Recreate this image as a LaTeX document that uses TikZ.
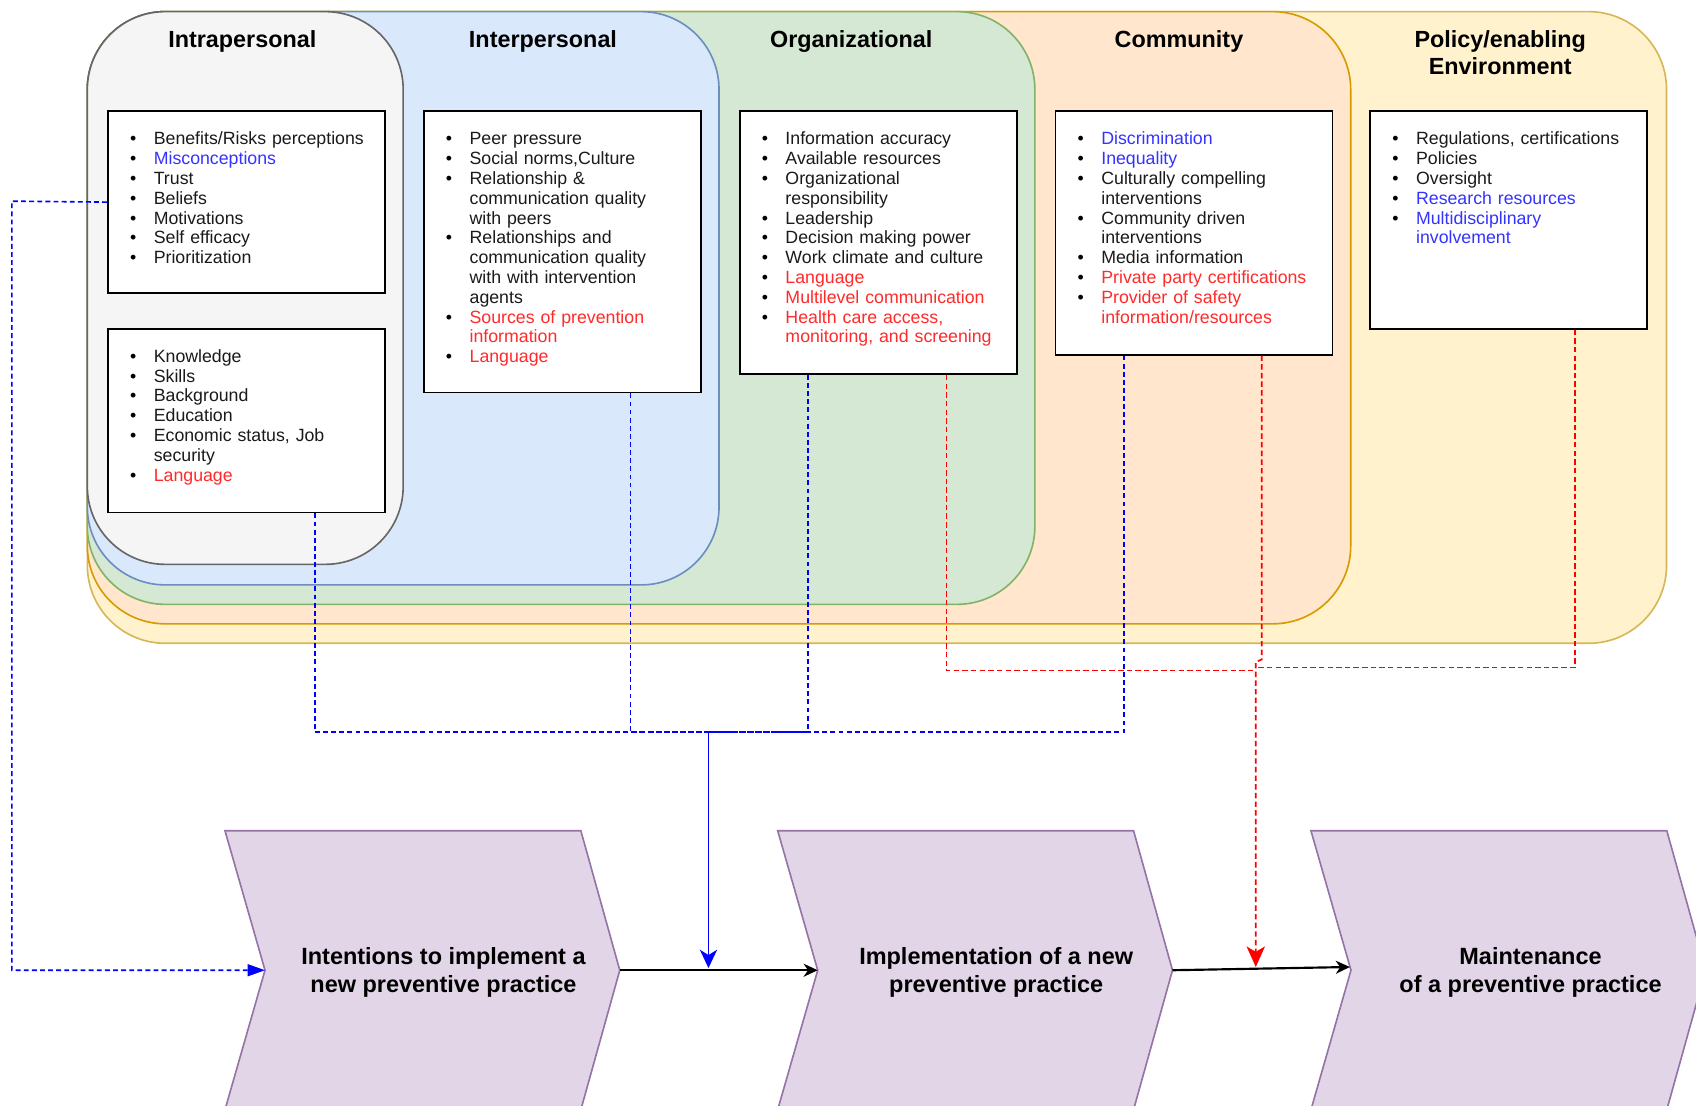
\documentclass[tikz,border=0pt]{standalone}
\usepackage{fontspec}
\setmainfont{Liberation Sans}
\usetikzlibrary{arrows.meta}

\definecolor{intrafill}{HTML}{F5F5F5}\definecolor{intraline}{HTML}{666666}
\definecolor{interfill}{HTML}{DAE8FC}\definecolor{interline}{HTML}{6C8EBF}
\definecolor{orgfill}{HTML}{D5E8D4}\definecolor{orgline}{HTML}{82B366}
\definecolor{comfill}{HTML}{FFE6CC}\definecolor{comline}{HTML}{D79B00}
\definecolor{polfill}{HTML}{FFF2CC}\definecolor{polline}{HTML}{D6B656}
\definecolor{chevfill}{HTML}{E1D5E7}\definecolor{chevline}{HTML}{9673A6}
\definecolor{txt}{HTML}{1A1A1A}
\definecolor{txtblue}{HTML}{3333FF}
\definecolor{txtred}{HTML}{FF2A2A}
\definecolor{linkblue}{HTML}{0000FF}
\definecolor{linkred}{HTML}{FF0000}

% one bulleted entry with a hanging indent; #1 = text colour
\newcommand\itm[2][txt]{\hangindent=21.9pt\hangafter=1%
  \makebox[21.9pt][l]{\color{black}\textbullet}{\color{#1}#2}\par}

\tikzset{
  layer/.style={rectangle, rounded corners=72pt, line width=1.5pt,
    anchor=north west, inner sep=0pt},
  title/.style={font=\fontsize{21.6}{25}\selectfont\bfseries, anchor=base,
    inner sep=0pt, text=black},
  listbox/.style={rectangle, draw=black, fill=white, line width=1.7pt,
    anchor=north west, inner sep=0pt},
  listtext/.style={anchor=base west, inner sep=0pt, text width=235pt,
    font=\fontsize{16.4}{18.3}\selectfont, text=txt},
  chev/.style={fill=chevfill, draw=chevline, line width=1.5pt},
  chevtext/.style={font=\fontsize{21.7}{26}\selectfont\bfseries, align=center,
    inner sep=0pt},
  bluedash/.style={draw=linkblue, line width=1.5pt, dash pattern=on 4.5pt off 3pt},
  reddash/.style={draw=linkred, line width=1.5pt, dash pattern=on 5pt off 3pt},
  flowarrow/.style={draw=black, line width=2pt,
    -{Stealth[length=13pt,width=12pt,inset=4pt]}},
  bluearrow/.style={draw=linkblue, line width=1.5pt,
    -{Stealth[length=17pt,width=16pt,inset=5pt]}},
  redarrow/.style={reddash,
    -{Stealth[length=19pt,width=17pt,inset=5pt]}},
}

\begin{document}
\begin{tikzpicture}[x=1pt,y=-1pt]
\useasboundingbox (0,0) rectangle (1568,1022);
\clip (0,0) rectangle (1568,1022);

% nested levels of the socio-ecological model
\node[layer, fill=polfill,   draw=polline,   minimum width=1460, minimum height=584] (Lpol)   at (80,10) {};
\node[layer, fill=comfill,   draw=comline,   minimum width=1168, minimum height=566] (Lcom)   at (80,10) {};
\node[layer, fill=orgfill,   draw=orgline,   minimum width=876,  minimum height=548] (Lorg)   at (80,10) {};
\node[layer, fill=interfill, draw=interline, minimum width=584,  minimum height=530] (Linter) at (80,10) {};
\node[layer, fill=intrafill, draw=intraline, minimum width=292,  minimum height=511] (Lintra) at (80,10) {};

% level titles
\node[title] (tIntra) at (224,44) {Intrapersonal};
\node[title] (tInter) at (502,44) {Interpersonal};
\node[title] (tOrg)   at (787,44) {Organizational};
\node[title] (tCom)   at (1090,44) {Community};
\node[title] (tPol1)  at (1387,44) {Policy/enabling};
\node[title] (tPol2)  at (1387,69) {Environment};

% factor boxes
\node[listbox, minimum width=256, minimum height=168] (ib1)   at (99,102) {};
\node[listbox, minimum width=256, minimum height=170] (ib2)   at (99,303) {};
\node[listbox, minimum width=256, minimum height=260] (inter) at (391,102) {};
\node[listbox, minimum width=256, minimum height=243] (org)   at (683,102) {};
\node[listbox, minimum width=256, minimum height=225] (comm)  at (975,102) {};
\node[listbox, minimum width=256, minimum height=201] (pol)   at (1266,102) {};

\node[listtext] (ib1t) at (120.1,134) {%
  \itm{Benefits/Risks perceptions}
  \itm[txtblue]{Misconceptions}
  \itm{Trust}
  \itm{Beliefs}
  \itm{Motivations}
  \itm{Self efficacy}
  \itm{Prioritization}};

\node[listtext] (ib2t) at (120.1,335) {%
  \itm{Knowledge}
  \itm{Skills}
  \itm{Background}
  \itm{Education}
  \itm{Economic status, Job\newline security}
  \itm[txtred]{Language}};

\node[listtext] (intert) at (412.1,134) {%
  \itm{Peer pressure}
  \itm{Social norms,Culture}
  \itm{Relationship \&\newline communication quality\newline with peers}
  \itm{Relationships and\newline communication quality\newline with with intervention\newline agents}
  \itm[txtred]{Sources of prevention\newline information}
  \itm[txtred]{Language}};

\node[listtext] (orgt) at (704.1,134) {%
  \itm{Information accuracy}
  \itm{Available resources}
  \itm{Organizational\newline responsibility}
  \itm{Leadership}
  \itm{Decision making power}
  \itm{Work climate and culture}
  \itm[txtred]{Language}
  \itm[txtred]{Multilevel communication}
  \itm[txtred]{Health care access,\newline monitoring, and screening}};

\node[listtext] (commt) at (996.1,134) {%
  \itm[txtblue]{Discrimination}
  \itm[txtblue]{Inequality}
  \itm{Culturally compelling\newline interventions}
  \itm{Community driven\newline interventions}
  \itm{Media information}
  \itm[txtred]{Private party certifications}
  \itm[txtred]{Provider of safety\newline information/resources}};

\node[listtext] (polt) at (1287.1,134) {%
  \itm{Regulations, certifications}
  \itm{Policies}
  \itm{Oversight}
  \itm[txtblue]{Research resources}
  \itm[txtblue]{Multidisciplinary\newline involvement}};

% stages of adoption
\draw[chev] (208,768) -- (537,768) -- (573,897) -- (537,1026) -- (208,1026) -- (245,897) -- cycle;
\draw[chev] (719,768) -- (1048,768) -- (1084,897) -- (1048,1026) -- (719,1026) -- (756,897) -- cycle;
\draw[chev] (1212,768) -- (1541,768) -- (1577,897) -- (1541,1026) -- (1212,1026) -- (1249,897) -- cycle;
\coordinate (c1in) at (245,897);  \coordinate (c1out) at (573,897);
\coordinate (c2in) at (756,897);  \coordinate (c2out) at (1084,897);
\coordinate (c3in) at (1248,894);
\node[chevtext] (s1) at (410,899)  {Intentions to implement a\\new preventive practice};
\node[chevtext] (s2) at (921,899)  {Implementation of a new\\preventive practice};
\node[chevtext] (s3) at (1415,899) {Maintenance\\of a preventive practice};

% junction points of the influence lines
\coordinate (bj)    at (655,677);
\coordinate (bt)    at (655,895);
\coordinate (rj1)   at (1161,620);
\coordinate (rj2)   at (1161,617);
\coordinate (rbend) at (1161,612);
\coordinate (rt)    at (1161,894);
\coordinate (lft)   at (11,186);

% blue influences converge on the first transition
\draw[bluedash] ([xshift=192pt]ib2.south west) |- (bj);
\draw[bluedash] ([xshift=192pt]inter.south west) |- (bj);
\draw[bluedash] ([xshift=64pt]org.south west) |- (bj);
\draw[bluedash] ([xshift=64pt]comm.south west) |- (bj);
\draw[bluedash, -{Triangle[length=16pt,width=11pt]}] (ib1.west) -- (lft) |- (c1in);

% red influences converge on the second transition
\draw[reddash] ([xshift=192pt]org.south west) |- (rj1);
\draw[reddash] ([xshift=190pt]pol.south west) |- (rj2);
\draw[redarrow] ([xshift=191.5pt]comm.south west) -- ++(0,281) -- (rbend) -- (rt);

% flow between stages
\draw[flowarrow] (c1out) -- (c2in);
\draw[flowarrow] (c2out) -- (c3in);
\draw[bluearrow] (bj) -- (bt);
\end{tikzpicture}
\end{document}
